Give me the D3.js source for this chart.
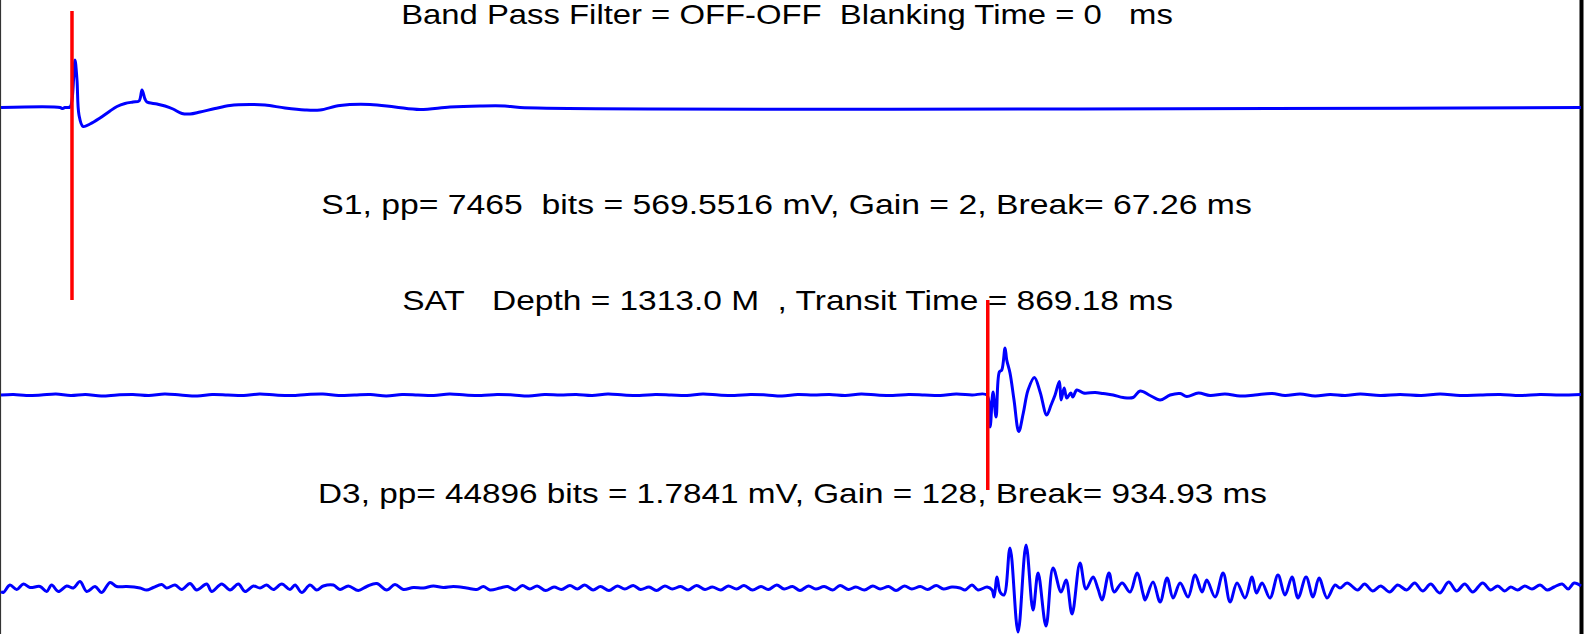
<!DOCTYPE html>
<html>
<head>
<meta charset="utf-8">
<script src="https://cdn.jsdelivr.net/npm/d3@7"></script>
<style>
  body { margin: 0; background: #fff; }
  svg { display: block; }
  text { font-family: "Liberation Sans", Arial, sans-serif; white-space: pre; }
</style>
</head>
<body>
<div id="chart"></div>
<script>
// set up svg
var svgWidth = 1592;
var svgHeight = 634;

// text labels
var titleText = "Band Pass Filter = OFF-OFF  Blanking Time = 0   ms";
var s1Text = "S1, pp= 7465  bits = 569.5516 mV, Gain = 2, Break= 67.26 ms";
var satText = "SAT   Depth = 1313.0 M  , Transit Time = 869.18 ms";
var d3Text = "D3, pp= 44896 bits = 1.7841 mV, Gain = 128, Break= 934.93 ms";

// break picks (ms)
var breakTimes = [67.26, 934.93];

// trace 1 (S1) : [time ms, amplitude]
var traceS1 = [
  [0, 0], [56, 0], [57.8, -0.02], [60.6, 0], [65.4, 0.01], [67.3, 0.15], [70.1, 0.95],
  [72.0, 0.55], [73.9, -0.15], [77.7, -0.38], [84.3, -0.33], [93.8, -0.21], [103.3, -0.07],
  [109.9, 0.02], [117.5, 0.08], [125.1, 0.11], [130.8, 0.13], [133.6, 0.35], [136.4, 0.17],
  [138.3, 0.11], [147.8, 0.07], [155.4, 0.03], [163.0, -0.03], [171.5, -0.12], [179.1, -0.13],
  [188.6, -0.09], [202.8, -0.02], [217.0, 0.04], [235.9, 0.06], [250.1, 0.05], [269.1, -0.01],
  [288.0, -0.05], [302.3, -0.05], [321.2, 0.04], [349.6, 0.06], [373.3, 0.01], [397.0, -0.04],
  [425.4, 0.01], [453.9, 0.03], [477.5, 0.03], [491.8, 0], [1497, 0]
];

// trace 2 (D3)
var traceD3 = [
  [0, 0], [12, 0.01], [24, -0.01], [38, 0], [52, 0.02], [66, -0.01], [80, 0.01], [95, -0.02],
  [110, 0], [125, 0.01], [140, -0.01], [155, 0.02], [170, 0], [186, -0.02], [200, 0.01],
  [215, 0], [230, -0.01], [245, 0.02], [260, 0], [275, -0.01], [290, 0.01], [305, 0.02],
  [320, -0.01], [335, 0], [350, 0.01], [365, -0.02], [380, 0.01], [395, 0], [410, -0.01],
  [425, 0.02], [440, 0], [455, -0.01], [470, 0.01], [485, 0], [500, -0.02], [515, 0.01],
  [530, 0], [545, 0.01], [560, -0.01], [575, 0.02], [590, 0], [605, -0.01], [620, 0.01],
  [635, 0], [650, -0.01], [665, 0.02], [680, 0], [695, -0.01], [710, 0.01], [725, 0],
  [740, -0.02], [755, 0.01], [770, 0], [785, 0.01], [800, -0.01], [815, 0.02], [830, 0],
  [845, -0.01], [860, 0.01], [875, 0], [890, -0.01], [905, 0.02], [920, 0], [934.0, 0],
  [937.1, -0.64], [939.9, 0.06], [942.8, -0.44], [945.9, 0.46], [948.2, 0.5], [951.3, 0.94],
  [952.9, 0.70], [956.0, 0.44], [959.8, -0.1], [964.3, -0.73], [968.6, -0.36], [973.1, 0.1],
  [979.1, 0.35], [984.5, 0.06], [990.8, -0.4], [994.9, -0.2], [998.7, 0], [1002.8, 0.27],
  [1004.4, -0.1], [1007.3, 0.14], [1009.8, -0.06], [1013.6, 0.04], [1015.5, -0.04],
  [1019.3, 0.1], [1025.6, 0.04], [1036.7, 0.05], [1044.2, 0.03], [1053.7, 0], [1063.2, -0.05],
  [1072.6, -0.05], [1079.3, 0.08], [1088.7, -0.01], [1098.2, -0.1], [1107.7, 0], [1117.2, 0.03],
  [1123.5, -0.03], [1134.5, 0.04], [1145.5, -0.01], [1159.7, 0.02], [1174.0, -0.02],
  [1188.2, 0], [1204.3, 0.03], [1216.6, -0.01], [1230.9, 0.02], [1245.1, -0.02], [1259.3, 0.01],
  [1273.5, -0.01], [1287.8, 0.02], [1306.7, -0.01], [1325.6, 0.01], [1345.6, -0.01],
  [1363.5, 0.02], [1382.4, -0.01], [1401.4, 0], [1420.3, 0.01], [1439.3, -0.01], [1458.2, 0.01],
  [1477.1, 0], [1497, 0.01]
];

// trace 3 (lower receiver)
var traceR3 = [
  [0, -0.07], [2.2, -0.09], [8.5, 0.06], [14.9, -0.03], [21.2, 0.08], [27.5, 0.01], [37.0, 0.03],
  [43.3, -0.07], [48.0, 0.06], [54.3, -0.07], [62.2, 0.04], [68.5, 0], [74.9, 0.13], [81.2, -0.07],
  [89.1, 0.03], [95.4, -0.09], [103.3, 0.11], [109.6, 0.03], [119.1, 0.03], [131.7, 0],
  [138.0, -0.04], [144.3, 0.01], [152.3, 0.07], [157.0, 0], [164.9, 0.06], [171.2, -0.03],
  [179.1, 0.09], [185.4, -0.04], [194.9, 0.08], [199.6, -0.07], [209.1, 0.08], [217.0, -0.04],
  [224.9, 0.08], [231.2, -0.07], [239.1, 0.04], [245.4, 0], [251.7, 0.06], [258.0, -0.03],
  [266.0, 0.08], [273.8, -0.03], [278.6, 0.06], [284.9, -0.09], [292.8, 0.06], [299.1, -0.04],
  [305.4, 0.04], [314.9, 0.06], [321.2, -0.03], [329.1, 0.04], [338.5, -0.05], [346.5, 0.03],
  [356.0, 0.09], [365.4, -0.04], [373.3, 0.07], [381.2, -0.03], [390.7, 0.01], [400.2, 0],
  [409.6, 0.04], [419.1, 0.01], [428.6, 0.03], [441.2, 0], [450.7, -0.03], [457.0, 0.03],
  [463.3, -0.04], [472.8, 0], [480, 0.03], [487, -0.04], [494, 0.05], [501, -0.02], [508, 0.04],
  [516, -0.05], [524, 0.02], [531, -0.03], [539, 0.05], [546, -0.02], [553, 0.06], [561, -0.04],
  [568, 0.03], [576, -0.05], [584, 0.04], [591, -0.02], [599, 0.05], [606, -0.03], [614, 0.02],
  [621, -0.05], [629, 0.04], [636, -0.02], [644, 0.03], [651, -0.04], [659, 0.05], [667, -0.03],
  [674, 0.02], [682, -0.04], [689, 0.04], [697, -0.02], [704, 0.05], [712, -0.04], [720, 0.03],
  [727, -0.03], [735, 0.06], [742, -0.02], [750, 0.03], [757, -0.05], [765, 0.04], [772, -0.02],
  [780, 0.03], [788, -0.04], [795, 0.05], [803, -0.03], [810, 0.02], [818, -0.04], [826, 0.04],
  [833, -0.02], [841, 0.03], [848, -0.05], [856, 0.04], [863, -0.02], [871, 0.03], [878, -0.03],
  [886, 0.05], [893, -0.02], [901, 0.02], [908.7, 0], [913.4, -0.04], [920.0, 0.06],
  [925.7, -0.04], [934.3, 0.02], [939.0, -0.04], [940.9, -0.18], [943.7, 0.22], [946.6, -0.08],
  [950.3, -0.14], [956.0, 0.80], [963.6, -0.88], [971.2, 0.86], [977.8, -0.44], [982.6, 0.30],
  [990.1, -0.76], [996.8, 0.40], [1004.4, -0.08], [1009.1, 0.16], [1014.8, -0.52], [1022.3, 0.50],
  [1028.0, -0.02], [1034.7, 0.22], [1039.4, -0.02], [1043.2, -0.24], [1049.8, 0.30],
  [1054.6, -0.08], [1062.2, 0.10], [1069.7, -0.08], [1076.4, 0.30], [1082.1, -0.12],
  [1084.0, -0.24], [1091.5, 0.12], [1098.2, -0.28], [1104.8, 0.20], [1110.5, -0.20],
  [1117.2, 0.10], [1124.7, -0.18], [1131.4, 0.26], [1138.0, -0.08], [1142.4, 0.16],
  [1150.3, -0.18], [1157.9, 0.30], [1164.5, -0.28], [1171.1, 0.10], [1178.7, -0.20],
  [1185.3, 0.22], [1189.5, -0.10], [1194.8, 0.10], [1202.3, -0.20], [1209.9, 0.26],
  [1216.6, -0.14], [1223.2, 0.22], [1228.9, -0.20], [1236.5, 0.22], [1243.1, -0.18],
  [1248.8, 0.20], [1256.4, -0.20], [1264.0, 0.06], [1268.7, 0], [1275.4, 0.10], [1285.4, -0.04],
  [1292.0, 0.08], [1299.6, -0.06], [1307.2, 0.04], [1315.7, -0.08], [1323.3, 0.06],
  [1331.8, -0.04], [1339.4, 0.10], [1347.0, -0.06], [1354.6, 0.08], [1363.1, -0.10],
  [1371.6, 0.12], [1379.2, -0.06], [1386.8, 0.08], [1394.4, -0.08], [1403.8, 0.10],
  [1411.4, -0.04], [1418.1, 0.04], [1424.7, -0.06], [1430.4, 0.02], [1437.0, -0.04],
  [1443.7, 0.04], [1450.6, -0.02], [1458.2, 0.06], [1464.9, -0.04], [1471.5, 0.02],
  [1479.1, 0.08], [1484.8, -0.02], [1490.5, 0.10], [1497, 0.04]
];

var svg = d3.select("#chart")
    .append("svg")
    .attr("width", svgWidth)
    .attr("height", svgHeight);

// time scale (ms -> px)
var xScale = d3.scaleLinear()
    .domain([0, 1497])
    .range([1, 1581]);

// one amplitude scale per trace
var baseLines = [107.5, 395, 588];
var halfHeight = 50;
var yScales = baseLines.map(function (b) {
    return d3.scaleLinear().domain([-1, 1]).range([b + halfHeight, b - halfHeight]);
});

// frame lines
svg.append("line")
    .attr("x1", 0.5).attr("x2", 0.5)
    .attr("y1", 0).attr("y2", svgHeight)
    .attr("stroke", "#333").attr("stroke-width", 1.2);
svg.append("line")
    .attr("x1", xScale(1497) + 0.5).attr("x2", xScale(1497) + 0.5)
    .attr("y1", 0).attr("y2", svgHeight)
    .attr("stroke", "#000").attr("stroke-width", 4);

// traces
var traces = [traceS1, traceD3, traceR3];
traces.forEach(function (tr, i) {
    var line = d3.line()
        .curve(d3.curveCatmullRom.alpha(0.5))
        .x(function (d) { return xScale(d[0]); })
        .y(function (d) { return yScales[i](d[1]); });
    svg.append("path")
        .datum(tr)
        .attr("d", line)
        .attr("fill", "none")
        .attr("stroke", "#0000ff")
        .attr("stroke-width", 3)
        .attr("stroke-linejoin", "round");
});

// red break markers
var markerSpans = [[11, 300], [300, 490]];
breakTimes.forEach(function (t, i) {
    svg.append("line")
        .attr("x1", xScale(t)).attr("x2", xScale(t))
        .attr("y1", markerSpans[i][0]).attr("y2", markerSpans[i][1])
        .attr("stroke", "#ff0000")
        .attr("stroke-width", 3.5);
});

// labels (text is stretched horizontally like the original figure)
var labels = [
    { t: titleText, x: 787, y: 23.5, w: 772 },
    { t: s1Text, x: 786.5, y: 213.5, w: 931 },
    { t: satText, x: 787.5, y: 310, w: 771 },
    { t: d3Text, x: 792.5, y: 502.5, w: 949 }
];
labels.forEach(function (d) {
    var g = svg.append("g");
    var txt = g.append("text")
        .attr("x", 0)
        .attr("y", 0)
        .attr("text-anchor", "middle")
        .attr("font-size", 28.5)
        .attr("fill", "#000")
        .text(d.t);
    var sx = d.w / txt.node().getComputedTextLength();
    g.attr("transform", "translate(" + d.x + "," + d.y + ") scale(" + sx + ",1)");
});
</script>
</body>
</html>
